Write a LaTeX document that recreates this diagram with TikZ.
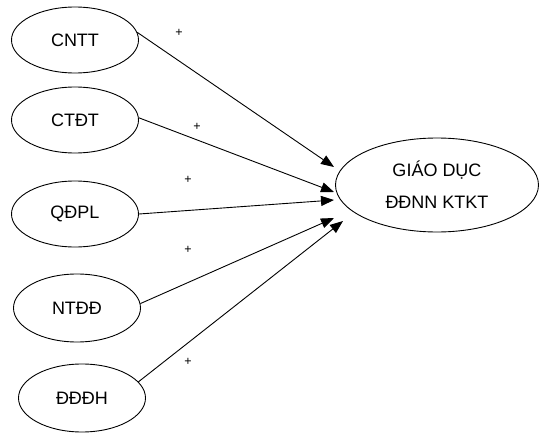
\documentclass[tikz,border=0pt]{standalone}
\usepackage{fontspec}
\setmainfont{Liberation Sans}
\usetikzlibrary{shapes.geometric,arrows.meta}
\begin{document}
\begin{tikzpicture}[x=1pt,y=-1pt,
  src/.style={draw,ellipse,line width=0.9pt,minimum width=127pt,minimum height=66pt,inner sep=0pt,font=\fontsize{18}{21}\selectfont},
  arr/.style={line width=0.9pt,-{Triangle[length=13pt,width=10pt]}},
  plus/.style={font=\fontsize{12.5}{13}\selectfont,inner sep=0pt}]
\useasboundingbox (0,0) rectangle (539,434);
\node[src] (cntt) at (75,40) {CNTT};
\node[src] (ctdt) at (75,120) {CTĐT};
\node[src] (qdpl) at (75,214) {QĐPL};
\node[src,minimum height=68pt] (ntdd) at (77,308) {NTĐĐ};
\node[src,minimum height=68pt] (dddh) at (82,398) {ĐĐĐH};
\node[draw,ellipse,line width=0.9pt,minimum width=203pt,minimum height=94pt,inner sep=0pt,align=center,font=\fontsize{18}{32}\selectfont] (gd) at (437,185) {GIÁO DỤC\\ĐĐNN KTKT};
\coordinate (t1) at (334,167);
\coordinate (t2) at (334,192);
\coordinate (t3) at (334,200);
\coordinate (t4) at (334,218);
\coordinate (t5) at (343,221);
\draw[arr] (cntt.7) -- (t1);
\draw[arr] (ctdt.2) -- (t2);
\draw[arr] (qdpl.0) -- (t3);
\draw[arr] (ntdd.4) -- (t4);
\draw[arr] (dddh.16) -- (t5);
\node[plus] (p1) at (179,33) {+};
\node[plus] (p2) at (197,127) {+};
\node[plus] (p3) at (188,180) {+};
\node[plus] (p4) at (188,250) {+};
\node[plus] (p5) at (188,362) {+};
\end{tikzpicture}
\end{document}
